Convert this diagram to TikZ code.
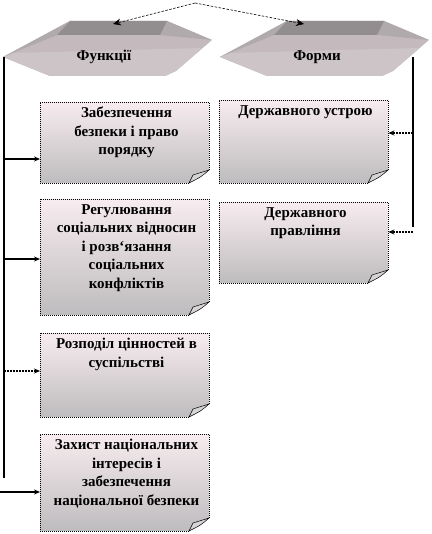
\documentclass[tikz,border=0pt]{standalone}
\usepackage{fontspec}
\setmainfont{Liberation Serif}
\usetikzlibrary{arrows.meta}
\definecolor{boxtop}{RGB}{247,236,239}
\definecolor{boxbot}{RGB}{190,188,190}
\definecolor{platetop}{RGB}{146,142,144}
\definecolor{platefront}{RGB}{196,186,189}
\definecolor{plateside}{RGB}{176,170,172}
\definecolor{platelow}{RGB}{204,196,198}
\definecolor{flapcol}{RGB}{214,212,214}
\tikzset{
  boxfill/.style={top color=boxtop, bottom color=boxbot},
  boxedge/.style={dash pattern=on 1pt off 1pt, line width=0.8pt, black},
  flapstyle/.style={fill=flapcol, draw=black, line width=0.5pt},
  boxtext/.style={font=\bfseries\fontsize{15}{18.5}\selectfont, align=center, inner sep=0pt, text=black},
  platetext/.style={font=\bfseries\fontsize{15}{16}\selectfont, inner sep=0pt},
  conn/.style={line width=1.2pt, -{Stealth[length=6pt,width=5pt]}},
  dconn/.style={line width=1.8pt, dash pattern=on 2pt off 1pt, -{Stealth[length=6pt,width=5pt]}},
  topconn/.style={line width=0.6pt, dash pattern=on 2.5pt off 1.5pt, -{Stealth[length=8pt,width=7pt]}},
  vline/.style={line width=1.3pt},
}
\newcommand\notebox[6]{%
  \path[boxfill] (#2,#3) -- (#4,#3) -- (#4,#5-13) -- (#4-20,#5) -- (#2,#5) -- cycle;
  \draw[boxedge] (#4,#5-13) -- (#4,#3) -- (#2,#3) -- (#2,#5) -- (#4-20,#5);
  \draw[flapstyle] (#4-20,#5) -- (#4-16,#5-8) -- (#4,#5-13) .. controls (#4-8,#5-6) .. cycle;
  \node[inner sep=0pt, minimum width=#4pt-#2pt, minimum height=#5pt-#3pt, anchor=north west] (#1) at (#2,#3) {};
  \node[boxtext, anchor=north] (#1t) at ({(#2+#4)/2+2},#3+5) {#6};
}
\newcommand\plate{%
  \fill[platefront] (3,57) -- (70,21) -- (167,21) -- (212,40) -- (176,71) -- (165,76) -- (50,76) -- cycle;
  \fill[platelow] (12,53) -- (202,48) -- (176,71) -- (165,76) -- (50,76) -- (3,57) -- cycle;
  \fill[plateside] (70,21) -- (57,35) -- (3,57) -- cycle;
  \fill[plateside] (167,21) -- (212,40) -- (160,35) -- cycle;
  \fill[platetop] (70,21) -- (167,21) -- (160,35) -- (57,35) -- cycle;
}
\begin{document}
\begin{tikzpicture}[x=1pt,y=-1pt]
\useasboundingbox (0,0) rectangle (431,534);
\fill[white] (0,0) rectangle (431,534);
% plates
\plate
\begin{scope}[shift={(217,0)}]
\plate
\end{scope}
\node[platetext] (funk) at (104,57) {Функції};
\node[platetext] (form) at (317,57) {Форми};
% top connectors
\coordinate (apex) at (195,3);
\coordinate (funkin) at (113,24);
\coordinate (formin) at (304,24);
\draw[topconn] (apex) -- (funkin);
\draw[topconn] (apex) -- (formin);
% boxes
\notebox{b1}{40}{102}{209}{183}{Забезпечення\\безпеки і право\\порядку}
\notebox{b2}{40}{199}{209}{315}{Регулювання\\соціальних відносин\\і розв`язання\\соціальних\\конфліктів}
\notebox{b3}{40}{333}{209}{417}{Розподіл цінностей в\\суспільстві}
\notebox{b4}{40}{434}{209}{531}{Захист національних\\інтересів і\\забезпечення\\національної безпеки}
\notebox{r1}{219}{100}{388}{183}{Державного устрою}
\notebox{r2}{219}{202}{388}{283}{Державного\\правління}
% left trunk
\coordinate (ltop) at (4,57);
\coordinate (lbot) at (4,478);
\draw[vline] (ltop) -- (lbot);
\coordinate (l1) at (4,159);
\coordinate (l2) at (4,259);
\coordinate (l3) at (4,371);
\coordinate (l4) at (0,492);
\draw[conn] (l1) -- (l1 -| b1.west);
\draw[conn] (l2) -- (l2 -| b2.west);
\draw[dconn] (l3) -- (l3 -| b3.west);
\draw[conn] (l4) -- (l4 -| b4.west);
% right trunk
\coordinate (rtop) at (413,57);
\coordinate (rbot) at (413,227);
\draw[vline] (rtop) -- (rbot);
\coordinate (q1) at (413,133);
\coordinate (q2) at (413,232);
\draw[dconn] (q1) -- (q1 -| r1.east);
\draw[dconn] (q2) -- (q2 -| r2.east);
\end{tikzpicture}
\end{document}
